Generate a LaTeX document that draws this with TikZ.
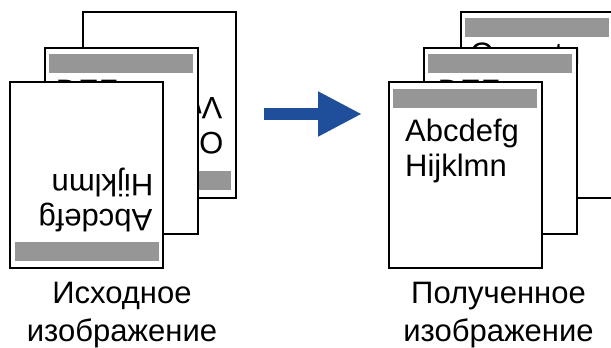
\documentclass[tikz,border=0pt]{standalone}
\usepackage{fontspec}
\setmainfont{Liberation Sans}
\usetikzlibrary{arrows.meta}
\definecolor{bargray}{HTML}{969696}
\definecolor{arrowblue}{HTML}{1F4E9A}

\begin{document}
\begin{tikzpicture}[x=1pt, y=-1pt,
  sheet/.style={draw=black, fill=white, line width=2pt, inner sep=0pt,
                minimum width=153pt, minimum height=186pt, anchor=north west},
  headbar/.style={fill=bargray, inner sep=0pt, minimum width=144pt,
                  minimum height=18.5pt, anchor=north west},
  pagetext/.style={font=\fontsize{31}{35}\selectfont, inner sep=0pt, anchor=base west},
  flipped/.style={pagetext, rotate=180},
  caption/.style={font=\fontsize{31}{38}\selectfont, align=center, inner sep=0pt, anchor=north},
  convarrow/.style={-{Triangle[length=44pt, width=42pt]}, arrowblue, line width=12pt}
]
  \useasboundingbox (0,0) rectangle (611,348);

  % ── Left: source pages (some upside down) ──
  \node[sheet] (srcback) at (82,11) {};
  \node[headbar] (srcbackbar) at (87,171) {};
  \node[flipped] (srcbackl1) at (223.5,132) {Opqrstu};
  \node[flipped] (srcbackl2) at (222.5,97) {Vwxyz};

  \node[sheet] (srcmid) at (44,47) {};
  \node[headbar] (srcmidbar) at (49,54) {};
  \node[pagetext] (srcmidl1) at (55.6,101) {DEF};

  \node[sheet] (srcfront) at (9,81) {};
  \node[headbar] (srcfrontbar) at (15,242) {};
  \node[flipped] (srcfrontl1) at (152.5,209) {Abcdefg};
  \node[flipped] (srcfrontl2) at (153.5,174) {Hijklmn};

  \node[caption] (srclabel) at (122,282) {Исходное\\изображение};

  % ── Middle: conversion arrow ──
  \coordinate (arrowtail) at (264,114);
  \coordinate (arrowtip) at (362,114);
  \draw[convarrow] (arrowtail) -- (arrowtip);

  % ── Right: corrected pages ──
  \node[sheet] (resback) at (460,11) {};
  \node[headbar] (resbackbar) at (465,18) {};
  \node[pagetext] (resbackl1) at (470,64) {Opqrstu};

  \node[sheet] (resmid) at (423,47) {};
  \node[headbar] (resmidbar) at (428,54) {};
  \node[pagetext] (resmidl1) at (437.6,101) {DEF};

  \node[sheet] (resfront) at (388,81) {};
  \node[headbar] (resfrontbar) at (393,89) {};
  \node[pagetext] (resfrontl1) at (405,141) {Abcdefg};
  \node[pagetext] (resfrontl2) at (405,176) {Hijklmn};

  \node[caption] (reslabel) at (498.5,282) {Полученное\\изображение};
\end{tikzpicture}
\end{document}
